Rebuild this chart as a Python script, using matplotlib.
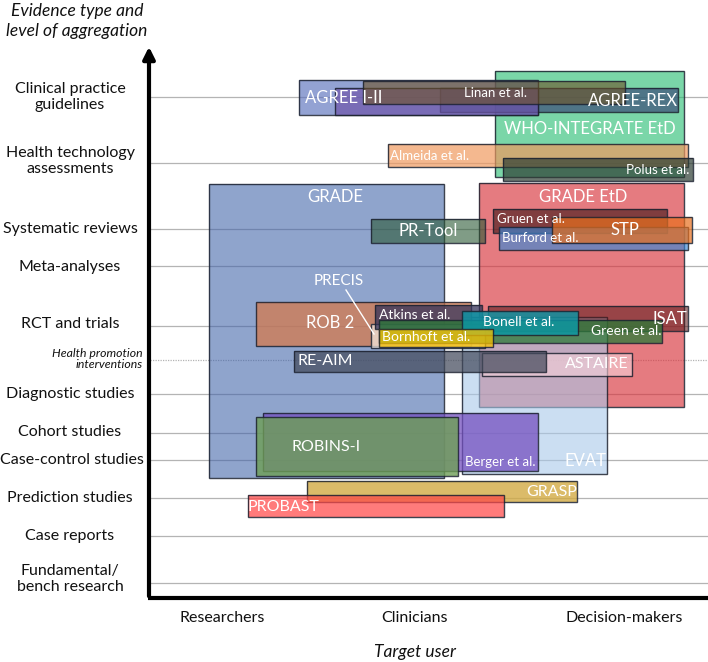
import matplotlib.pyplot as plt
from matplotlib.patches import Rectangle

plt.rcParams['font.family'] = ['Lato', 'DejaVu Sans']

# Evidence levels (y position of each gridline, in plot units = pixels from top)
levels = ['Clinical practice\nguidelines', 'Health technology\nassessments',
          'Systematic reviews', 'Meta-analyses', 'RCT and trials',
          'Diagnostic studies', 'Cohort studies', 'Case-control studies',
          'Prediction studies', 'Case reports', 'Fundamental/\nbench research']
level_y = [97, 163, 229, 266, 326, 394, 433, 460, 498, 536, 583]
label_y = [97, 161, 229, 267, 324, 394, 432, 460, 498, 536, 579]
hp_label = 'Health promotion\ninterventions'
hp_y = 360

# Target users along the x axis
users = ['Researchers', 'Clinicians', 'Decision-makers']
user_x = [222, 415, 624]

# Tools: extent along user axis (x0, x1) and along evidence axis (y0 top, y1 bottom)
tools = ['GRADE', 'GRADE EtD', 'WHO-INTEGRATE EtD', 'EVAT', 'AGREE I-II', 'AGREE-REX',
         'AGREE II', 'Linan et al.', 'Almeida et al.', 'Polus et al.', 'PR-Tool',
         'Gruen et al.', 'Burford et al.', 'STP', 'ROB 2', 'PRECIS', 'ISAT', 'Atkins et al.',
         'Green et al.', 'Bonell et al.', 'Bornhoft et al.', 'ASTAIRE', 'RE-AIM',
         'Berger et al.', 'ROBINS-I', 'GRASP', 'PROBAST']
x0 = [209, 479, 495, 462, 299, 440, 335, 363, 388, 503, 371,
      493, 499, 552, 256, 371, 488, 375, 379, 462, 379, 482, 294,
      263, 256, 307, 248]
x1 = [444, 684, 684, 607, 538, 678, 538, 625, 688, 693, 485,
      667, 688, 692, 471, 485, 688, 482, 662, 578, 493, 632, 546,
      538, 458, 577, 504]
y0 = [184, 183, 71, 317, 80, 88, 88, 81, 144, 158, 219,
      209, 227, 217, 302, 324, 306, 305, 320, 311, 329, 353, 351,
      413, 417, 481, 495]
y1 = [478, 407, 177, 474, 115, 112, 115, 104, 167, 181, 243,
      233, 250, 243, 346, 348, 331, 329, 343, 335, 347, 376, 372,
      471, 476, 502, 517]
colors = ['#3f62a8', '#d8343c', '#22bb6e', '#a9c9ea', '#5a70bc', '#3d4c7a',
          '#6e56aa', '#6e5226', '#f09a60', '#2e3e34', '#2c5a36',
          '#4a1c1c', '#3a88d6', '#e8701e', '#d47a4e', '#f2e6dc', '#5a1818', '#35335a',
          '#2c7a38', '#0a98a8', '#f7c000', '#f6d2da', '#434a5c',
          '#7450c0', '#6e9e56', '#d2aa44', '#ff4848']
alphas = [0.58, 0.65, 0.6, 0.6, 0.65, 0.7, 0.7, 0.6, 0.7, 0.7, 0.6,
          0.65, 0.65, 0.7, 0.75, 0.75, 0.55, 0.75, 0.75, 0.8, 0.75, 0.6, 0.72,
          0.75, 0.8, 0.8, 0.72]

# Label anchors and sizes (text drawn in white)
label_text = ['GRADE', 'GRADE EtD', 'WHO-INTEGRATE EtD', 'EVAT', 'AGREE I-II', 'AGREE-REX',
              'Linan et al.', 'Almeida et al.', 'Polus et al.', 'PR-Tool', 'Gruen et al.',
              'Burford et al.', 'STP', 'PRECIS', 'ROB 2', 'Atkins et al.', 'Bornhoft et al.',
              'Bonell et al.', 'Green et al.', 'ISAT', 'RE-AIM', 'ASTAIRE', 'ROBINS-I',
              'Berger et al.', 'GRASP', 'PROBAST']
label_pos = [(335, 197), (583, 197), (590, 129), (585, 461), (344, 98), (633, 101),
             (496, 93), (430, 156), (658, 170), (428, 231), (531, 219),
             (540, 238), (625, 230), (339, 281), (330, 323), (415, 315), (426, 337),
             (519, 322), (626, 331), (670, 319), (325, 361), (597, 364), (326, 447),
             (500, 462), (552, 492), (283, 507)]
label_size = [12, 12, 12, 12, 12, 12, 9.5, 9.5, 9.5, 12, 9.5,
              9.5, 12, 11, 12, 10, 10, 10, 10, 12, 11.5, 11.5, 11.5,
              9.5, 11.5, 11.5]

fig = plt.figure(figsize=(7.08, 6.62), dpi=100)
W, H = 708, 662
ax = fig.add_axes([150 / W, (H - 598) / H, (W - 150) / W, (598 - 45) / H])
ax.set_xlim(150, 708)
ax.set_ylim(598, 45)
ax.axis('off')

# gridlines
for y in level_y:
    ax.plot([150, 708], [y, y], color='#b4b4b4', lw=0.9, zorder=0)
ax.plot([150, 708], [hp_y, hp_y], color='#b4b4b4', lw=0.9, ls=(0, (1, 1)), zorder=0)

# boxes
for i, name in enumerate(tools):
    ax.add_patch(Rectangle((x0[i], y0[i]), x1[i] - x0[i], y1[i] - y0[i],
                           facecolor=colors[i], alpha=alphas[i], zorder=2 + i * 0.01))
    ax.add_patch(Rectangle((x0[i], y0[i]), x1[i] - x0[i], y1[i] - y0[i],
                           facecolor='none', edgecolor='#1c2230', lw=1.0, alpha=0.85,
                           zorder=2 + i * 0.01 + 0.005))

# PRECIS pointer
ax.plot([346, 374], [290, 334], color='white', lw=1.0, zorder=5)

for t, (px, py), s in zip(label_text, label_pos, label_size):
    ax.text(px, py, t, color='white', fontsize=s, ha='center', va='center', zorder=6)

# axes with arrow
ax.plot([148, 708], [598, 598], color='black', lw=3, clip_on=False, zorder=7,
        solid_capstyle='butt')
ax.annotate('', xy=(149, 44), xytext=(149, 599),
            arrowprops=dict(arrowstyle='-|>,head_width=0.35,head_length=0.7',
                            color='black', lw=3), annotation_clip=False, zorder=7)

# level labels
for lab, y in zip(levels, label_y):
    lx = 72 if lab.startswith('Case-control') else 70
    ax.text(lx, y, lab, fontsize=11.5, ha='center', va='center', multialignment='center',
            color='#111111', clip_on=False, linespacing=1.1)
ax.text(143, hp_y - 1, hp_label, fontsize=8.8, style='italic', ha='right', va='center',
        multialignment='right', color='#111111', clip_on=False, linespacing=0.95)

for lab, x in zip(users, user_x):
    ax.text(x, 618, lab, fontsize=11.5, ha='center', va='center', color='#111111', clip_on=False)

ax.text(415, 652, 'Target user', fontsize=12.5, style='italic', ha='center', va='center',
        color='#111111', clip_on=False)
ax.text(77, 21, 'Evidence type and\nlevel of aggregation', fontsize=12.5, style='italic',
        ha='center', va='center', color='#111111', clip_on=False, linespacing=1.3)

fig.savefig('out.png', dpi=100)
